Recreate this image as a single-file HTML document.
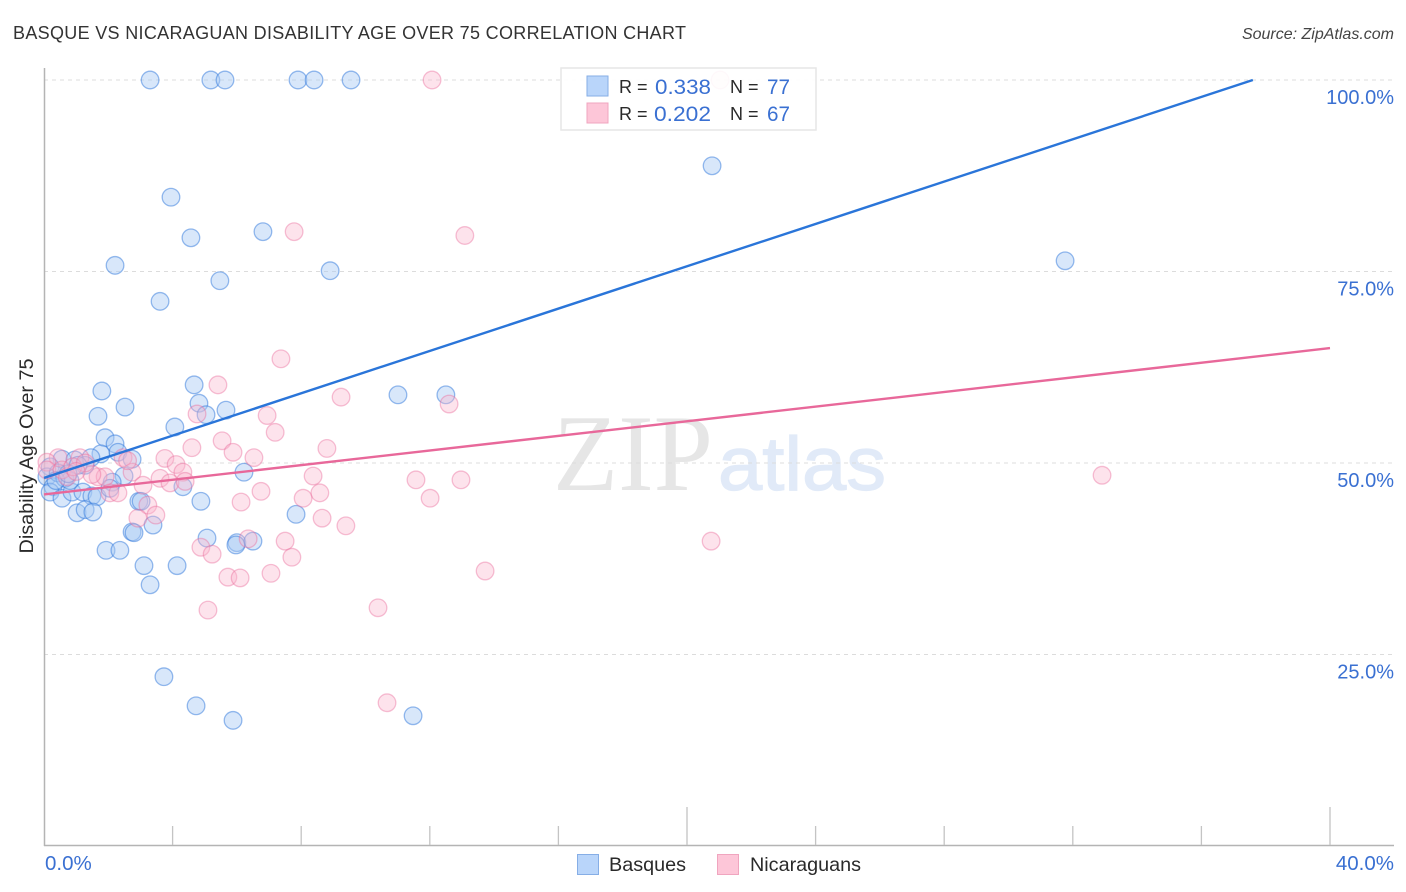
<!DOCTYPE html>
<html lang="en">
<head>
<meta charset="utf-8">
<title>Basque vs Nicaraguan Disability Age Over 75 Correlation Chart</title>
<style>
html,body{margin:0;padding:0;background:#fff;width:1406px;height:892px;overflow:hidden}
svg{display:block;font-family:"Liberation Sans",sans-serif}
</style>
</head>
<body>
<svg id="chart" xmlns="http://www.w3.org/2000/svg" width="1406" height="892" viewBox="0 0 1406 892">
  <text x="13" y="39" font-size="18" fill="#333" textLength="673" lengthAdjust="spacing">BASQUE VS NICARAGUAN DISABILITY AGE OVER 75 CORRELATION CHART</text>
  <text x="1394" y="39" font-size="16" font-style="italic" fill="#444" text-anchor="end">Source: ZipAtlas.com</text>
  <g>
    <text x="553" y="490" font-family="'Liberation Serif',serif" font-size="109" fill="#e6e6e6" textLength="160" lengthAdjust="spacingAndGlyphs">ZIP</text>
    <text x="718" y="490" font-size="76" fill="#e1eaf8" stroke="#e1eaf8" stroke-width="1.2" textLength="168" lengthAdjust="spacingAndGlyphs">atlas</text>
  </g>
  <g id="grid"></g>
  <g id="axes"></g>
  <g id="points"></g>
  <g id="trends"></g>
  <text transform="translate(33,456) rotate(-90)" font-size="19" fill="#2a2a2a" text-anchor="middle" textLength="195" lengthAdjust="spacingAndGlyphs">Disability Age Over 75</text>
  <g>
    <rect x="561" y="68" width="255" height="62" fill="#fff" fill-opacity="0.9" stroke="#e6e6e6" stroke-width="1.5"/>
    <rect x="587" y="76" width="21" height="20" fill="#b9d5fa" stroke="#86aee6" stroke-width="1"/>
    <rect x="587" y="103" width="21" height="20" fill="#fdc6d8" stroke="#f0a5bf" stroke-width="1"/>
    <text x="619" y="93" font-size="18" fill="#2a2a2a">R =</text>
    <text x="655" y="94" font-size="21" fill="#3a70d2" textLength="56" lengthAdjust="spacingAndGlyphs">0.338</text>
    <text x="730" y="93" font-size="18" fill="#2a2a2a">N =</text>
    <text x="767" y="94" font-size="21" fill="#3a70d2" textLength="23" lengthAdjust="spacingAndGlyphs">77</text>
    <text x="619" y="120" font-size="18" fill="#2a2a2a">R =</text>
    <text x="654" y="121" font-size="21" fill="#3a70d2" textLength="57" lengthAdjust="spacingAndGlyphs">0.202</text>
    <text x="730" y="120" font-size="18" fill="#2a2a2a">N =</text>
    <text x="767" y="121" font-size="21" fill="#3a70d2" textLength="23" lengthAdjust="spacingAndGlyphs">67</text>
  </g>
  <g>
    <rect x="577.5" y="854.5" width="21" height="20" fill="#b9d5fa" stroke="#86aee6" stroke-width="1"/>
    <text x="609" y="871" font-size="19.8" fill="#2a2a2a">Basques</text>
    <rect x="717.5" y="854.5" width="21" height="20" fill="#fdc6d8" stroke="#f0a5bf" stroke-width="1"/>
    <text x="750" y="871" font-size="19.8" fill="#2a2a2a">Nicaraguans</text>
  </g>
</svg>
<script>
const xTickValues = [0, 4, 8, 12, 16, 20, 24, 28, 32, 36, 40];
const xMajorTicks = [20, 40];
const xLabels = ["0.0%", "40.0%"];
const xLabelValues = [0, 40];
const yTickValues = [25, 50, 75, 100];
const yLabels = ["25.0%", "50.0%", "75.0%", "100.0%"];

const basqueX = [3.30,5.19,5.63,7.90,8.40,9.55,20.78,3.95,4.57,6.81,2.21,8.90,31.76,5.47,3.61,4.67,1.80,2.52,11.01,12.50,4.82,5.66,1.68,5.04,4.07,1.90,2.21,1.77,2.30,2.74,0.56,0.96,1.46,1.28,6.22,2.49,0.19,0.09,0.28,0.19,0.56,0.87,1.21,1.49,1.65,2.12,2.05,4.32,4.88,2.95,3.02,1.03,1.28,1.52,2.74,2.80,3.39,5.07,7.84,6.00,5.97,6.50,1.93,2.36,3.11,4.14,3.30,3.73,4.73,5.88,11.48,0.44,0.65,0.81,0.37,1.06,0.75];
const basqueY = [100,100,100,100,100,100,88.8,84.7,79.4,80.2,75.8,75.1,76.4,73.8,71.1,60.2,59.4,57.3,58.9,58.9,57.8,56.9,56.1,56.3,54.7,53.3,52.5,51.2,51.4,50.5,50.5,50.4,50.7,49.7,48.8,48.3,49.5,48.2,46.9,46.2,45.4,46.2,46.2,45.7,45.6,47.5,46.7,46.9,45.0,45.0,45.0,43.5,43.9,43.6,41.0,40.9,41.9,40.2,43.3,39.6,39.3,39.8,38.6,38.6,36.6,36.6,34.1,22.1,18.3,16.4,17.0,48.7,48.0,47.7,47.7,49.7,48.6];

const nicaraguanX = [12.07,21.03,7.78,13.09,7.37,5.41,9.24,12.60,4.76,6.94,7.19,4.60,5.54,5.88,8.80,6.53,32.91,3.76,4.11,4.32,2.74,0.44,1.12,2.46,3.08,3.61,3.92,4.39,2.05,2.30,1.68,1.90,1.49,3.23,3.48,2.92,11.57,12.97,8.37,6.75,8.58,8.06,12.01,6.13,8.65,9.39,6.35,20.75,7.50,4.88,5.23,7.71,7.06,5.72,6.10,13.72,10.39,5.10,10.67,0.09,0.09,0.56,0.72,0.90,1.28,2.60,1.00];
const nicaraguanY = [100,100,80.2,79.7,63.6,60.2,58.6,57.7,56.4,56.2,54.0,52.0,52.9,51.4,51.9,50.7,48.4,50.6,49.8,48.8,48.8,50.7,50.7,50.7,47.1,48.0,47.4,47.6,46.1,46.1,48.2,48.2,48.5,44.5,43.2,42.8,47.8,47.8,48.3,46.3,46.1,45.4,45.4,44.9,42.8,41.8,40.1,39.8,39.8,39.0,38.1,37.7,35.6,35.1,35.0,35.9,31.1,30.8,18.7,50.1,49.1,49.1,48.2,49.5,50.0,50.3,48.9];

const basqueTrendX = [0, 37.6];
const basqueTrendY = [48.05, 100];
const nicaraguanTrendX = [0, 40];
const nicaraguanTrendY = [45.9, 65];

const NS = "http://www.w3.org/2000/svg";
function xScale(v) { return 44 + v * 32.15; }
function yScale(v) { return 846 - v * 7.66; }
function make(tag, attrs, parent) {
  const el = document.createElementNS(NS, tag);
  for (const k in attrs) el.setAttribute(k, attrs[k]);
  parent.appendChild(el);
  return el;
}
const gridG = document.getElementById("grid");
const axesG = document.getElementById("axes");
const pointsG = document.getElementById("points");
const trendsG = document.getElementById("trends");

yTickValues.forEach(function (v, i) {
  const line = make("line", {x1: 44, x2: 1394, y1: yScale(v), y2: yScale(v), stroke: "#dcdcdc", "stroke-width": 1, "stroke-dasharray": "4 4"}, gridG);
  
  
  const t = make("text", {x: 1394, y: yScale(v) + 24, "font-size": 20, fill: "#3a70d2", "text-anchor": "end"}, axesG);
  t.textContent = yLabels[i];
  
  
});

const yAxis = make("line", {x1: 44.5, x2: 44.5, y1: 68, y2: 846, stroke: "#b4b4b4", "stroke-width": 1.5}, axesG);


const xAxis = make("line", {x1: 44, x2: 1394, y1: 845.5, y2: 845.5, stroke: "#b4b4b4", "stroke-width": 1.5}, axesG);



xTickValues.forEach(function (v) {
  if (v === 0) return;
  const top = xMajorTicks.indexOf(v) >= 0 ? 807 : 826;
  const tick = make("line", {x1: xScale(v), x2: xScale(v), y1: top, y2: 845, stroke: "#c4c4c4", "stroke-width": 1.3}, axesG);
  
  
});
xLabels.forEach(function (label, i) {
  const v = xLabelValues[i];
  const t = make("text", {x: i === 0 ? xScale(v) + 1 : 1394, y: 870, "font-size": 20.5, fill: "#3a70d2", "text-anchor": i === 0 ? "start" : "end"}, axesG);
  t.textContent = label;
  
  
});

basqueX.forEach(function (v, i) {
  const c = make("circle", {cx: xScale(v), cy: yScale(basqueY[i]), r: 8.8, fill: "#a9c9f5", "fill-opacity": 0.45, stroke: "#2f78dc", "stroke-opacity": 0.5, "stroke-width": 1.3}, pointsG);
  
  
});
nicaraguanX.forEach(function (v, i) {
  const c = make("circle", {cx: xScale(v), cy: yScale(nicaraguanY[i]), r: 8.8, fill: "#fbb6cc", "fill-opacity": 0.38, stroke: "#ea6c9a", "stroke-opacity": 0.42, "stroke-width": 1.3}, pointsG);
  
  
});

const blueLine = make("line", {x1: xScale(basqueTrendX[0]), y1: yScale(basqueTrendY[0]), x2: xScale(basqueTrendX[1]), y2: yScale(basqueTrendY[1]), stroke: "#2a75d9", "stroke-width": 2.4}, trendsG);


const pinkLine = make("line", {x1: xScale(nicaraguanTrendX[0]), y1: yScale(nicaraguanTrendY[0]), x2: xScale(nicaraguanTrendX[1]), y2: yScale(nicaraguanTrendY[1]), stroke: "#e8689a", "stroke-width": 2.4}, trendsG);


</script>
</body>
</html>
